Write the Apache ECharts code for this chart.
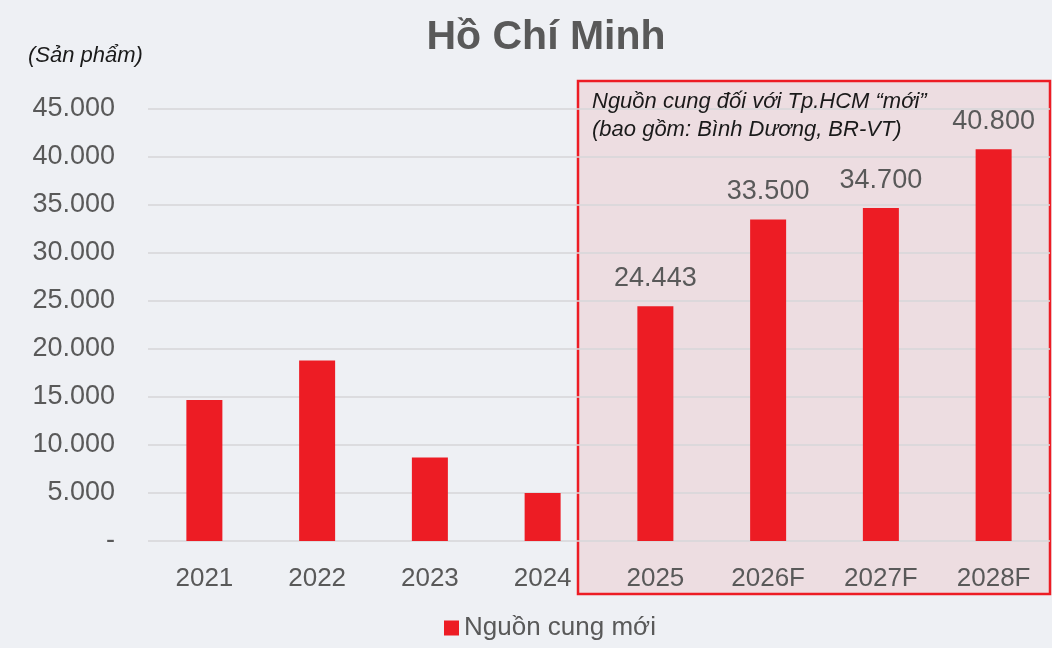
<!DOCTYPE html>
<html>
<head>
<meta charset="utf-8">
<script src="https://cdn.jsdelivr.net/npm/echarts@6/dist/echarts.min.js"></script>
<style>
  html, body { margin: 0; padding: 0; background: #eef0f4; }
  #chart { width: 1052px; height: 648px; }
</style>
</head>
<body>
<div id="chart"></div>
<script>
const categories = ['2021', '2022', '2023', '2024', '2025', '2026F', '2027F', '2028F'];
const supply = [14700, 18800, 8700, 5000, 24443, 33500, 34700, 40800];
const yTicks = [0, 5000, 10000, 15000, 20000, 25000, 30000, 35000, 40000, 45000];
const seriesName = 'Nguồn cung mới';
// chỉ hiện nhãn cho các năm trong khung
const labelledFrom = 4;

const fmt = v => v === 0 ? '-' : String(v).replace(/\B(?=(\d{3})+(?!\d))/g, '.');

const chart = echarts.init(document.getElementById('chart'));
chart.setOption({
  backgroundColor: '#eef0f4',
  textStyle: { fontFamily: 'Liberation Sans, Arial, sans-serif' },
  title: {
    text: 'Hồ Chí Minh',
    left: 541,
    textAlign: 'center',
    top: 12,
    textStyle: { fontSize: 41, fontWeight: 'bold', color: '#595959' }
  },
  legend: {
    bottom: 2,
    left: 439,
    itemWidth: 15, itemHeight: 15,
    itemGap: 6,
    icon: 'rect',
    textStyle: { fontSize: 26, color: '#595959' },
    data: [seriesName]
  },
  grid: { left: 148, right: 2, top: 109, bottom: 107 },
  xAxis: {
    type: 'category',
    data: categories,
    axisLine: { show: false },
    axisTick: { show: false },
    axisLabel: { fontSize: 26, color: '#595959', margin: 25 }
  },
  yAxis: {
    type: 'value',
    min: yTicks[0],
    max: yTicks[yTicks.length - 1],
    interval: 5000,
    axisLine: { show: false },
    axisTick: { show: false },
    splitLine: { lineStyle: { color: '#d6d6d9', width: 1.5 } },
    axisLabel: { fontSize: 27, color: '#595959', margin: 33, formatter: fmt }
  },
  graphic: [
    {
      type: 'text', left: 28, top: 45, z: 10,
      style: { text: '(Sản phẩm)', font: 'italic 22px Liberation Sans, Arial', fill: '#1a1a1a' }
    },
    {
      type: 'rect', z: 0, silent: true,
      shape: { x: 578, y: 81, width: 472, height: 513 },
      style: { fill: 'rgba(237, 28, 36, 0.09)', stroke: '#ed1c24', lineWidth: 2.5 }
    },
    {
      type: 'text', left: 592, top: 88, z: 10,
      style: {
        text: 'Nguồn cung đối với Tp.HCM “mới”\n(bao gồm: Bình Dương, BR-VT)',
        font: 'italic 22px Liberation Sans, Arial', fill: '#1a1a1a', lineHeight: 28
      }
    }
  ],
  series: [{
    name: seriesName,
    type: 'bar',
    data: supply.map((v, i) => ({
      value: v,
      label: { show: i >= labelledFrom }
    })),
    barWidth: 36,
    itemStyle: { color: '#ed1c24' },
    label: {
      position: 'top',
      distance: 14,
      fontSize: 27,
      color: '#595959',
      formatter: p => fmt(p.value)
    }
  }]
});
</script>
</body>
</html>
